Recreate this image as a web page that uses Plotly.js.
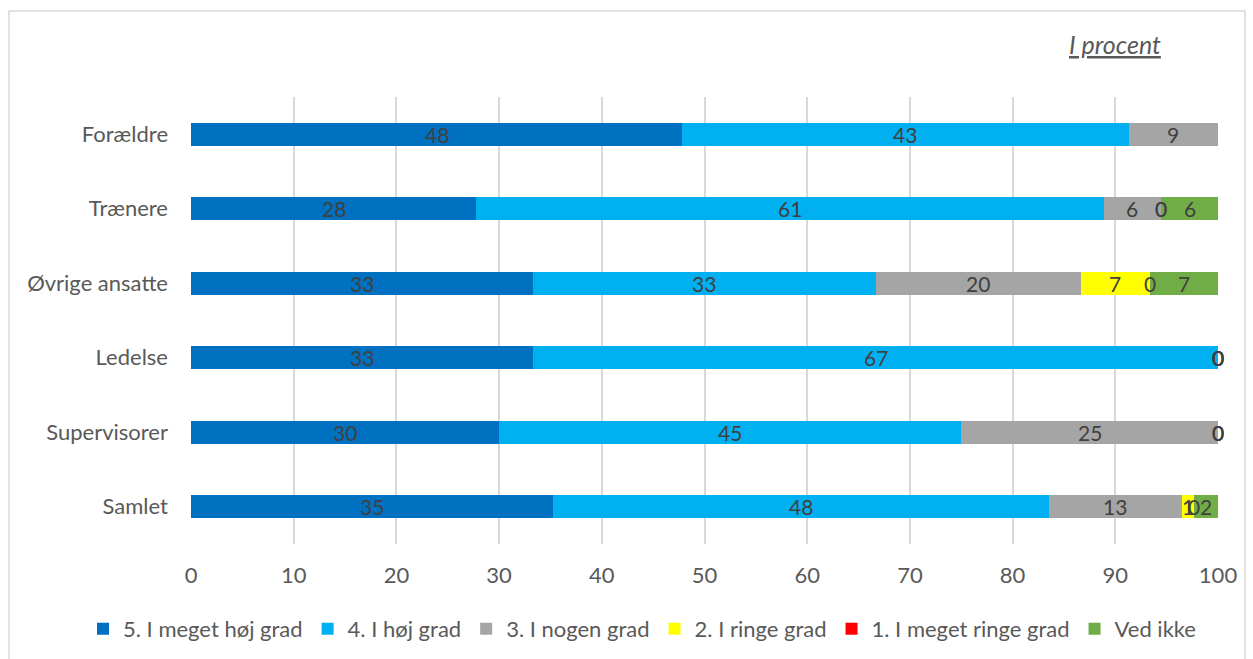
<!DOCTYPE html>
<html><head><meta charset="utf-8">
<script src="https://cdn.plot.ly/plotly-3.0.1.min.js"></script>
<style>html,body{margin:0;padding:0;background:#fff}#chart{width:1253px;height:659px}</style>
</head><body><div id="chart"></div>
<script>
const categories = ["Forældre","Trænere","Øvrige ansatte","Ledelse","Supervisorer","Samlet"];
const seriesNames = ["5. I meget høj grad","4. I høj grad","3. I nogen grad","2. I ringe grad","1. I meget ringe grad","Ved ikke"];
const seriesColors = ["#0070C0","#00B0F0","#A5A5A5","#FFFF00","#FF0000","#70AD47"];
const v5 = [47.83, 27.78, 33.33, 33.33, 30.0, 35.29];
const v4 = [43.48, 61.11, 33.33, 66.67, 45.0, 48.24];
const v3 = [8.70, 5.56, 20.0, 0, 25.0, 12.94];
const v2 = [null, 0, 6.67, 0, 0, 1.18];
const v1 = [null, 0, 0, 0, 0, 0];
const vVed = [null, 5.56, 6.67, 0, 0, 2.35];
const xTicks = [0,10,20,30,40,50,60,70,80,90,100];
const allValues = [v5, v4, v3, v2, v1, vVed];

const font = "Lato, 'Open Sans', sans-serif";
const traces = allValues.map((vals, i) => ({
  type: 'bar', orientation: 'h',
  name: seriesNames[i],
  y: categories, x: vals,
  marker: {color: seriesColors[i], line: {width: 0}},
  hoverinfo: 'x+name'
}));

// value labels, placed at the centre of each stacked segment (data coordinates)
const labelAnns = [];
const cum = categories.map(() => 0);
allValues.forEach(vals => {
  vals.forEach((v, j) => {
    if (v === null) return;
    labelAnns.push({
      xref: 'x', yref: 'y', x: cum[j] + v / 2, y: categories[j],
      text: String(Math.round(v)), showarrow: false,
      xanchor: 'center', yanchor: 'middle',
      font: {family: font, size: 21, color: '#404040'}
    });
    cum[j] += v;
  });
});

const W = 1253;
const layout = {
  width: 1253, height: 659,
  barmode: 'stack',
  bargap: 0.69,
  margin: {l: 0, r: 0, t: 97, b: 115},
  paper_bgcolor: '#fff', plot_bgcolor: '#fff',
  font: {family: font, color: '#595959', size: 22},
  xaxis: {
    domain: [191 / W, 1218 / W],
    range: [0, 100], tickvals: xTicks, ticktext: xTicks.map(String),
    showgrid: true, gridcolor: '#D9D9D9', gridwidth: 2,
    zeroline: false, showline: false, ticks: '',
    ticklabelstandoff: 16,
    tickfont: {family: font, size: 22, color: '#595959'},
    fixedrange: true
  },
  yaxis: {
    autorange: 'reversed', type: 'category',
    showgrid: false, zeroline: false, showline: false, ticks: '',
    ticklabelstandoff: 22,
    tickfont: {family: font, size: 22, color: '#595959'},
    automargin: false
  },
  showlegend: true,
  legend: {
    orientation: 'h', x: 642 / W, xanchor: 'center', y: -0.19, yanchor: 'middle',
    font: {family: font, size: 22, color: '#595959'},
    traceorder: 'normal', itemwidth: 30, itemsizing: 'constant'
  },
  annotations: labelAnns.concat([{
    xref: 'paper', yref: 'paper', x: 1115 / W, y: 1.118, xanchor: 'center', yanchor: 'middle',
    text: '<i><u>I procent</u></i>', showarrow: false,
    font: {family: font, size: 25, color: '#595959'}
  }]),
  shapes: [{
    type: 'rect', xref: 'paper', yref: 'paper',
    x0: 9 / W, x1: 1245 / W, y0: -0.5, y1: (544 - 11) / 447,
    line: {color: '#D9D9D9', width: 1.5}, fillcolor: 'rgba(0,0,0,0)', layer: 'below'
  }]
};
Plotly.newPlot('chart', traces, layout, {displayModeBar: false, staticPlot: true});
</script></body></html>
